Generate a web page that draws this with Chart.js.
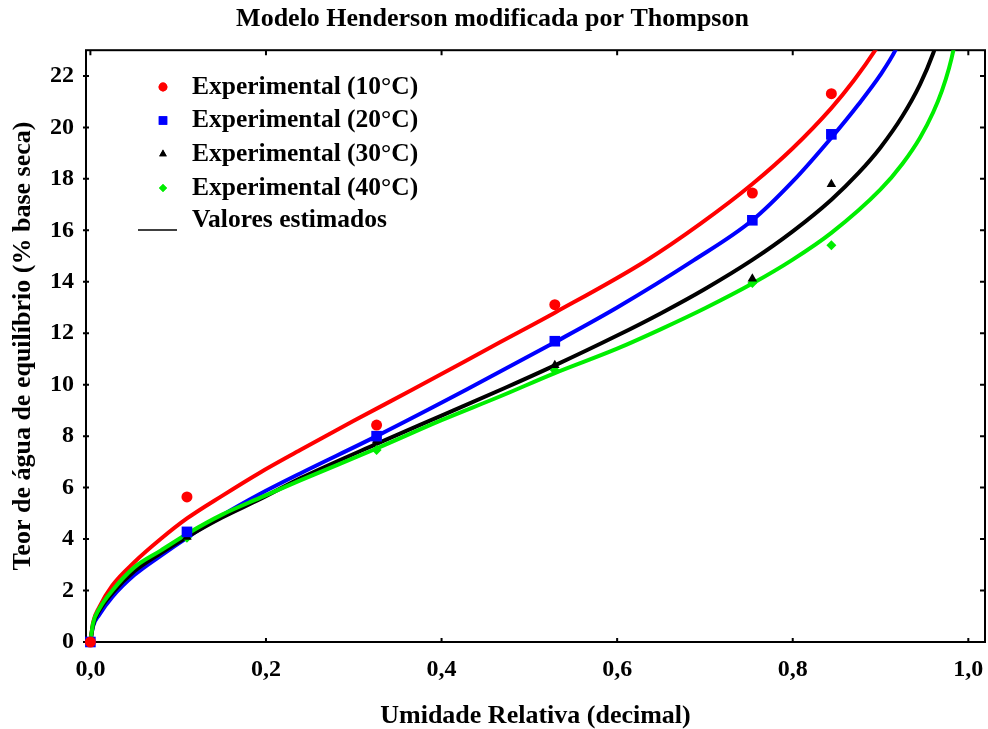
<!DOCTYPE html>
<html lang="pt">
<head>
<meta charset="UTF-8">
<title>Modelo Henderson modificada por Thompson</title>
<script src="https://cdn.jsdelivr.net/npm/chart.js@4"></script>
<style>
    html, body { margin: 0; padding: 0; background: #fff; }
    #grafico-box { width: 988px; height: 729px; }
</style>
</head>
<body>
<div id="grafico-box"><canvas id="grafico"></canvas></div>
<script>
// pontos experimentais (umidade relativa x teor de agua)
const urExp = [0, 0.11, 0.326, 0.529, 0.754, 0.844];
const exp10 = [0, 5.64, 8.43, 13.11, 17.45, 21.31];
const exp20 = [0, 4.28, 8.00, 11.69, 16.39, 19.73];
const exp30 = [0, 4.08, 7.82, 10.76, 14.12, 17.79];
const exp40 = [0, 4.05, 7.46, 10.56, 13.95, 15.42];

// curvas estimadas
const ur10  = [0, 0.003, 0.01, 0.025, 0.05, 0.08, 0.11, 0.15, 0.193, 0.239, 0.3, 0.366, 0.467, 0.529, 0.632, 0.695, 0.754, 0.8, 0.844, 0.87, 0.894, 0.91];
const est10 = [0, 0.75, 1.35, 2.2, 3.1, 4.0, 4.8, 5.68, 6.58, 7.46, 8.6, 9.79, 11.66, 12.8, 14.8, 16.26, 17.8, 19.19, 20.75, 21.84, 23.0, 23.9];
const ur20  = [0, 0.003, 0.01, 0.025, 0.05, 0.08, 0.11, 0.15, 0.193, 0.239, 0.326, 0.428, 0.529, 0.6, 0.687, 0.754, 0.8, 0.844, 0.875, 0.9, 0.917, 0.93];
const est20 = [0, 0.6, 1.05, 1.75, 2.6, 3.35, 4.05, 4.92, 5.75, 6.55, 8.0, 9.8, 11.65, 13.0, 14.83, 16.39, 17.9, 19.6, 20.9, 22.05, 23.0, 24.0];
const ur30  = [0, 0.003, 0.01, 0.025, 0.05, 0.08, 0.11, 0.15, 0.193, 0.239, 0.326, 0.4, 0.472, 0.529, 0.6, 0.65, 0.7, 0.754, 0.8, 0.844, 0.875, 0.9, 0.925, 0.945, 0.96, 0.97];
const est30 = [0, 0.65, 1.2, 1.9, 2.75, 3.45, 4.08, 4.84, 5.55, 6.36, 7.7, 8.8, 9.87, 10.75, 11.91, 12.78, 13.72, 14.85, 15.96, 17.19, 18.23, 19.22, 20.44, 21.67, 22.88, 23.92];
const ur40  = [0, 0.003, 0.01, 0.025, 0.05, 0.08, 0.11, 0.15, 0.193, 0.239, 0.326, 0.4, 0.467, 0.529, 0.6, 0.65, 0.7, 0.754, 0.8, 0.844, 0.9, 0.925, 0.945, 0.96, 0.97, 0.978, 0.983, 0.99];
const est40 = [0, 0.72, 1.28, 2.0, 2.9, 3.55, 4.2, 4.95, 5.6, 6.28, 7.52, 8.62, 9.55, 10.45, 11.4, 12.16, 12.97, 13.93, 14.86, 15.9, 17.59, 18.59, 19.6, 20.59, 21.43, 22.3, 23.0, 24.36];

const xTicks = [0, 0.2, 0.4, 0.6, 0.8, 1.0];
const xTickLabels = ['0,0', '0,2', '0,4', '0,6', '0,8', '1,0'];
const yTicks = [0, 2, 4, 6, 8, 10, 12, 14, 16, 18, 20, 22];

const legendaNomes = ['Experimental (10°C)', 'Experimental (20°C)', 'Experimental (30°C)', 'Experimental (40°C)', 'Valores estimados'];

const fonte = "'Liberation Serif', 'Times New Roman', serif";
Chart.defaults.font.family = fonte;
Chart.defaults.color = '#000';

function pares(xs, ys) {
    return xs.map((v, i) => ({ x: v, y: ys[i] }));
}

function pontos(label, ys, cor, estilo, raio) {
    return {
        label: label, data: pares(urExp, ys), showLine: false,
        pointStyle: estilo, pointRadius: raio, pointBorderWidth: 0,
        backgroundColor: cor, borderColor: cor, clip: false
    };
}

function curva(xs, ys, cor) {
    return {
        label: 'estimado', data: pares(xs, ys), showLine: true,
        pointRadius: 0, borderColor: cor, backgroundColor: cor,
        borderWidth: 4, cubicInterpolationMode: 'monotone'
    };
}

// sem folga extra das escalas, para a area do grafico ficar fixa
function semFolga(s) {
    s.paddingLeft = 0;
    s.paddingRight = 0;
    s.paddingTop = 0;
    s.paddingBottom = 0;
}

// moldura e marcas de escala para dentro
const molduraPlugin = {
    id: 'moldura',
    beforeDatasetsDraw(chart) {
        const { ctx, chartArea: a, scales: { x, y } } = chart;
        ctx.save();
        ctx.strokeStyle = '#000';
        ctx.lineWidth = 2;
        ctx.strokeRect(a.left, a.top, a.right - a.left, a.bottom - a.top);
        ctx.beginPath();
        xTicks.forEach(v => {
            const px = x.getPixelForValue(v);
            ctx.moveTo(px, a.bottom); ctx.lineTo(px, a.bottom - 4);
            ctx.moveTo(px, a.top); ctx.lineTo(px, a.top + 5);
        });
        yTicks.forEach(v => {
            const py = y.getPixelForValue(v);
            ctx.moveTo(a.left - 3, py); ctx.lineTo(a.left + 3, py);
            ctx.moveTo(a.right, py); ctx.lineTo(a.right - 5, py);
        });
        ctx.stroke();
        ctx.restore();
    }
};

const legendaPlugin = {
    id: 'legenda',
    afterDatasetsDraw(chart) {
        const ctx = chart.ctx;
        const a = chart.chartArea;
        const linhas = [87, 120.5, 154, 188, 220];
        ctx.save();
        ctx.font = 'bold 25.5px ' + fonte;
        ctx.fillStyle = '#000';
        ctx.textBaseline = 'middle';
        ctx.textAlign = 'left';
        for (let i = 0; i < 4; i++) {
            const ds = chart.data.datasets[i];
            ctx.fillStyle = ds.backgroundColor;
            Chart.helpers.drawPoint(ctx, { pointStyle: ds.pointStyle, radius: ds.pointRadius * 0.8, borderWidth: 0 }, a.left + 77, linhas[i]);
            ctx.fill();
            ctx.fillStyle = '#000';
            ctx.fillText(legendaNomes[i], a.left + 106, linhas[i]);
        }
        ctx.strokeStyle = '#000';
        ctx.lineWidth = 1.5;
        ctx.beginPath();
        ctx.moveTo(a.left + 52, linhas[4] + 10);
        ctx.lineTo(a.left + 91, linhas[4] + 10);
        ctx.stroke();
        ctx.fillText(legendaNomes[4], a.left + 106, linhas[4]);
        ctx.restore();
    }
};

const ctx = document.getElementById('grafico').getContext('2d');
new Chart(ctx, {
    type: 'scatter',
    data: {
        datasets: [
            pontos(legendaNomes[0], exp10, '#ff0000', 'circle', 5.5),
            pontos(legendaNomes[1], exp20, '#0000ff', 'rect', 7.5),
            pontos(legendaNomes[2], exp30, '#000000', 'triangle', 5.5),
            pontos(legendaNomes[3], exp40, '#00ee00', 'rectRot', 5),
            curva(ur40, est40, '#00ee00'),
            curva(ur30, est30, '#000000'),
            curva(ur10, est10, '#ff0000'),
            curva(ur20, est20, '#0000ff')
        ]
    },
    options: {
        responsive: true,
        maintainAspectRatio: false,
        animation: false,
        layout: { autoPadding: false, padding: { left: 0, right: 3, top: 0, bottom: 0 } },
        plugins: {
            legend: { display: false },
            tooltip: { enabled: false },
            title: {
                display: true,
                text: 'Modelo Henderson modificada por Thompson',
                color: '#000',
                font: { size: 26, weight: 'bold' },
                padding: { top: 4, bottom: 15 }
            }
        },
        scales: {
            x: {
                type: 'linear',
                min: -0.005,
                max: 1.019,
                grid: { display: false, drawTicks: false },
                border: { display: false },
                afterBuildTicks: s => { s.ticks = xTicks.map(v => ({ value: v })); },
                afterFit: s => { s.height = 87; semFolga(s); },
                ticks: {
                    autoSkip: false, maxRotation: 0, padding: 0,
                    font: { size: 24, weight: 'bold', lineHeight: 56 / 24 },
                    callback: (v, i) => xTickLabels[i]
                },
                title: {
                    display: true,
                    text: 'Umidade Relativa (decimal)',
                    font: { size: 26, weight: 'bold', lineHeight: 1 },
                    padding: { top: 0, bottom: 0 }
                }
            },
            y: {
                type: 'linear',
                min: 0,
                max: 23,
                grid: { display: false, drawTicks: false },
                border: { display: false },
                afterBuildTicks: s => { s.ticks = yTicks.map(v => ({ value: v })); },
                afterFit: s => { s.width = 86; semFolga(s); },
                ticks: {
                    autoSkip: false, padding: 12,
                    font: { size: 24, weight: 'bold' },
                    callback: v => String(v)
                },
                title: {
                    display: true,
                    text: 'Teor de água de equilíbrio (% base seca)',
                    font: { size: 26, weight: 'bold', lineHeight: 1 },
                    padding: { top: 10, bottom: 0 }
                }
            }
        }
    },
    plugins: [molduraPlugin, legendaPlugin]
});
</script>
</body>
</html>
